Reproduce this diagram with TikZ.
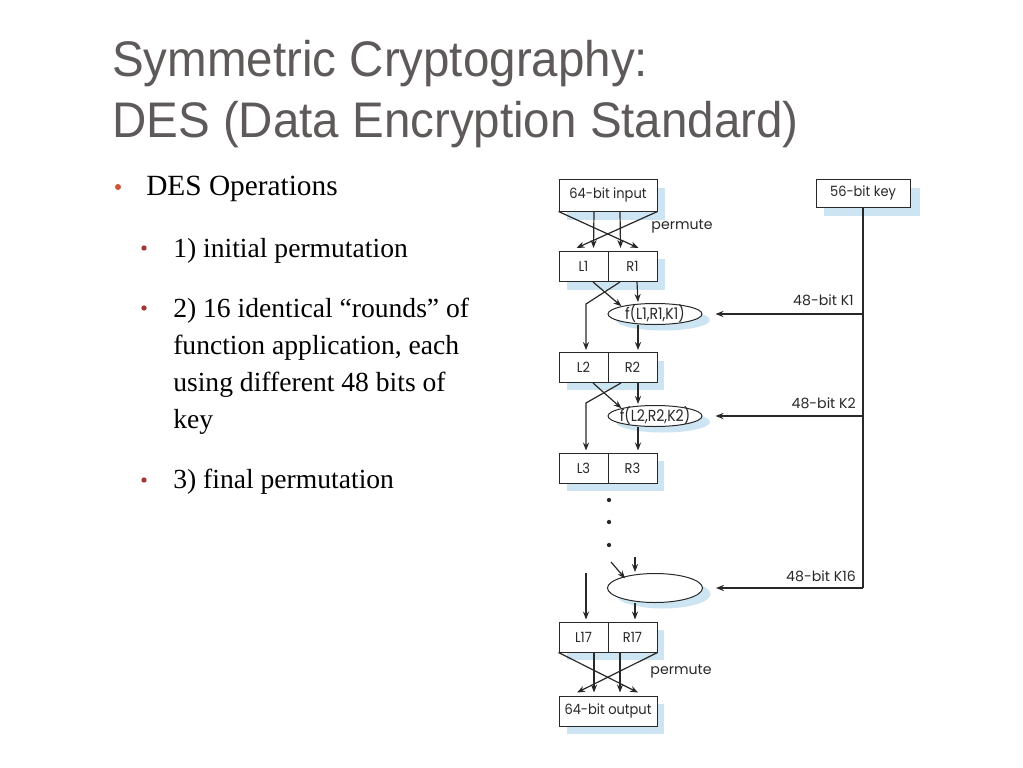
\documentclass[tikz,border=0pt]{standalone}
\usepackage{fontspec}
\usetikzlibrary{arrows.meta,calc,shapes.geometric}
\newfontfamily\titlefont[FakeStretch=0.95]{Liberation Sans}
\newfontfamily\bodyfont{Liberation Serif}
\newfontfamily\diafont{Poppins}
\newfontfamily\diafontc[FakeStretch=0.92]{Poppins}
\newfontfamily\diafontf[FakeStretch=0.88]{Poppins}
\definecolor{titlegray}{RGB}{95,90,90}
\definecolor{bulA}{RGB}{205,85,55}
\definecolor{bulB}{RGB}{165,55,50}
\definecolor{shadowblue}{RGB}{205,228,242}
\definecolor{ink}{RGB}{40,40,40}
\begin{document}
\begin{tikzpicture}[x=0.75pt,y=-0.75pt,
  title/.style={anchor=base west,inner sep=0pt,text=titlegray,font=\titlefont\fontsize{37.5pt}{45pt}\selectfont},
  lvlA/.style={anchor=base west,inner sep=0pt,font=\bodyfont\fontsize{22pt}{24pt}\selectfont},
  lvlB/.style={anchor=base west,inner sep=0pt,font=\bodyfont\fontsize{20.7pt}{24pt}\selectfont},
  dotA/.style={circle,fill=bulA,inner sep=0pt,minimum size=4.5pt},
  dotB/.style={circle,fill=bulB,inner sep=0pt,minimum size=4pt},
  box/.style={draw=ink,line width=0.75pt,fill=white,inner sep=0pt,text=ink,font=\diafontc\fontsize{10.6pt}{12pt}\selectfont},
  halfbox/.style={box,minimum width=49*0.75pt,minimum height=30*0.75pt},
  fbox/.style={box,ellipse,minimum width=94*0.75pt,minimum height=21*0.75pt},
  ftxt/.style={inner sep=0pt,text=ink,font=\diafontf\fontsize{12pt}{13pt}\selectfont},
  lab/.style={inner sep=0pt,text=ink,font=\diafont\fontsize{10.6pt}{12pt}\selectfont},
  arr/.style={draw=ink,line width=0.9pt,-{Stealth[length=6pt,width=4.6pt]}},
  ln/.style={draw=ink,line width=0.9pt},
  shd/.style={fill=shadowblue},
  keydot/.style={circle,fill=ink,inner sep=0pt,minimum size=3.2pt}
]
\useasboundingbox (0,0) rectangle (1023,767);
\fill[white] (0,0) rectangle (1023,767);

% ---------- title ----------
\node[title] (t1) at (112,76) {Symmetric Cryptography:};
\node[title] (t2) at (112,137) {DES (Data Encryption Standard)};

% ---------- bullets ----------
\node[dotA] (b0) at (118,187) {};
\node[lvlA] (i0) at (146,195) {DES Operations};
\node[dotB] (b1) at (144,248) {};
\node[lvlB] (i1) at (173,257) {1) initial permutation};
\node[dotB] (b2) at (144,308) {};
\node[lvlB] (i2a) at (173,317) {2) 16 identical “rounds” of};
\node[lvlB] (i2b) at (173,354) {function application, each};
\node[lvlB] (i2c) at (173,391) {using different 48 bits of};
\node[lvlB] (i2d) at (173,428) {key};
\node[dotB] (b3) at (144,480) {};
\node[lvlB] (i3) at (173,488) {3) final permutation};

% ---------- shadows ----------
\fill[shd] (567,188) rectangle (665,220);
\fill[shd] (824,188) rectangle (920,216);
\fill[shd] (567,259) rectangle (665,290);
\fill[shd] (567,361) rectangle (664,390);
\fill[shd] (567,461) rectangle (664,491);
\fill[shd] (567,630) rectangle (664,660);
\fill[shd] (567,704) rectangle (664,734);
\fill[shd] (663,320) ellipse [x radius=47, y radius=10.5];
\fill[shd] (663,422) ellipse [x radius=47, y radius=10.5];
\fill[shd] (663,594) ellipse [x radius=47.5, y radius=14.5];

% ---------- boxes ----------
\node[box,minimum width=98*0.75pt,minimum height=32*0.75pt] (in) at (608,195) {64-bit input};
\node[box,minimum width=94*0.75pt,minimum height=28*0.75pt] (key) at (863,193) {56-bit key};
\node[halfbox] (L1) at (583.5,266.5) {L1};
\node[halfbox] (R1) at (632.5,266.5) {R1};
\node[fbox] (f1) at (655,314) {};
\node[ftxt] (f1t) at (655,314) {f(L1,R1,K1)};
\node[halfbox] (L2) at (583.5,367.5) {L2};
\node[halfbox] (R2) at (632.5,367.5) {R2};
\node[fbox] (f2) at (655,416) {};
\node[ftxt] (f2t) at (655,416) {f(L2,R2,K2)};
\node[halfbox] (L3) at (583.5,468) {L3};
\node[halfbox] (R3) at (632.5,468) {R3};
\node[box,ellipse,minimum width=95*0.75pt,minimum height=29*0.75pt] (f16) at (655,588) {};
\node[halfbox] (L17) at (583.5,637) {L17};
\node[halfbox] (R17) at (632.5,637) {R17};
\node[box,minimum width=98*0.75pt,minimum height=30*0.75pt] (out) at (608,711) {64-bit output};

% ---------- labels ----------
\node[lab] (p1) at (682,226) {permute};
\node[lab] (p2) at (681,671) {permute};
\node[lab,anchor=base east] (k1) at (854,305) {48-bit K1};
\node[lab,anchor=base east] (k2) at (856,408) {48-bit K2};
\node[lab,anchor=base east] (k16) at (856,581) {48-bit K16};
\node[keydot] (d1) at (609,500) {};
\node[keydot] (d2) at (609,522) {};
\node[keydot] (d3) at (609,545) {};

% ---------- initial permutation ----------
\draw[arr] (in.south west) -- ($(R1.north)+(6,-3)$);
\draw[arr] (in.south east) -- ($(L1.north)+(-7,-3)$);
\draw[arr] ($(in.south)+(-14,0)$) -- ($(L1.north)+(10,-3)$);
\draw[arr] ($(in.south)+(12,0)$) -- ($(R1.north)+(-12,-3)$);

% ---------- round 1 ----------
\coordinate (c1) at (586,304);
\draw[arr] ($(L1.south)+(9.5,0)$) -- (f1.north west);
\draw[arr] ($(R1.south)+(4.5,0)$) -- ($(f1.north)+(-17,-1)$);
\draw[arr] ($(R1.south)+(-12.5,0)$) -- (c1) -- ($(L2.north)+(2.5,-2)$);
\draw[arr] ($(f1.south)+(-17,0)$) -- ($(R2.north)+(5.5,-2)$);

% ---------- round 2 ----------
\coordinate (c2) at (586,403);
\draw[arr] ($(L2.south)+(9.5,0)$) -- (f2.north west);
\draw[arr] ($(R2.south)+(5.5,0)$) -- ($(f2.north)+(-17,-1)$);
\draw[arr] ($(R2.south)+(-11.5,0)$) -- (c2) -- ($(L3.north)+(2.5,-2)$);
\draw[arr] ($(f2.south)+(-17,0)$) -- ($(R3.north)+(5.5,-2)$);

% ---------- round 16 ----------
\coordinate (s1) at (611,562);
\coordinate (s2) at (635,557);
\coordinate (s3) at (586,573);
\draw[arr] (s1) -- ($(f16.north west)+(4,1)$);
\draw[arr] (s2) -- ($(f16.north)+(-20,-1)$);
\draw[arr] (s3) -- ($(L17.north)+(2.5,-2)$);
\draw[arr] ($(f16.south)+(-20,0)$) -- ($(R17.north)+(2.5,-2)$);

% ---------- key schedule ----------
\coordinate (kc) at (863,588);
\draw[ln] (key.south) -- (kc);
\draw[arr] (kc) -- ($(f16.east)+(13,0)$);
\draw[arr] (key.south |- f1.east) -- ($(f1.east)+(13,0)$);
\draw[arr] (key.south |- f2.east) -- ($(f2.east)+(13,0)$);

% ---------- final permutation ----------
\draw[arr] (L17.south west) -- ($(out.north)+(30,-3)$);
\draw[arr] (R17.south east) -- ($(out.north)+(-31,-3)$);
\draw[arr] ($(L17.south)+(10.5,0)$) -- ($(out.north)+(-14,-3)$);
\draw[arr] ($(R17.south)+(-12.5,0)$) -- ($(out.north)+(12,-3)$);
\end{tikzpicture}
\end{document}
